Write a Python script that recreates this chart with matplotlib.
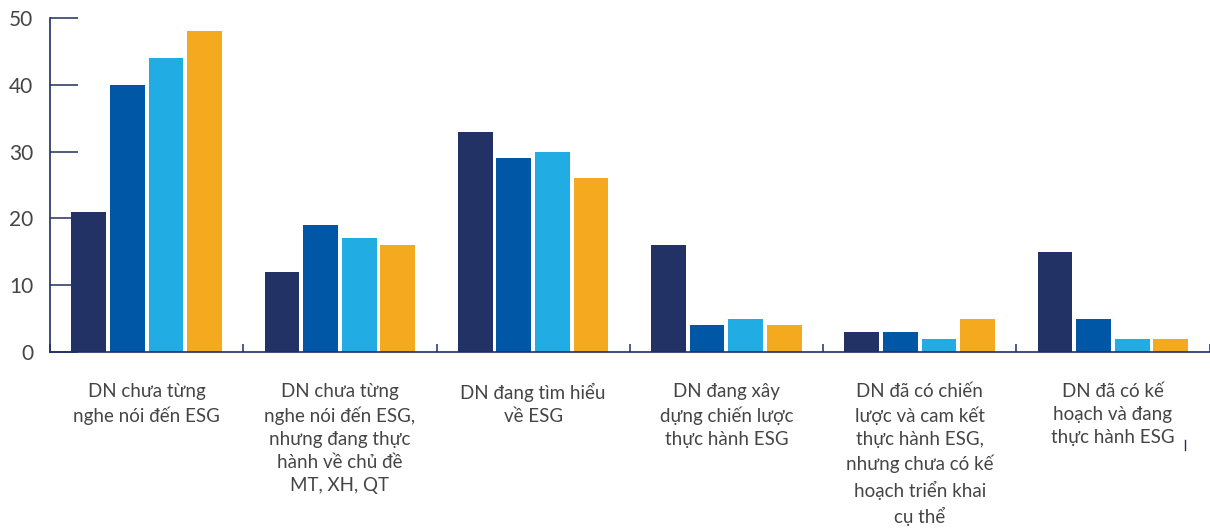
import matplotlib
matplotlib.use("Agg")
import matplotlib.pyplot as plt
from matplotlib.lines import Line2D
import numpy as np

plt.rcParams['font.family'] = ['Lato', 'Open Sans', 'DejaVu Sans']

categories = [
    "DN chưa từng\nnghe nói đến ESG",
    "DN chưa từng\nnghe nói đến ESG,\nnhưng đang thực\nhành về chủ đề\nMT, XH, QT",
    "DN đang tìm hiểu\nvề ESG",
    "DN đang xây\ndựng chiến lược\nthực hành ESG",
    "DN đã có chiến\nlược và cam kết\nthực hành ESG,\nnhưng chưa có kế\nhoạch triển khai\ncụ thể",
    "DN đã có kế\nhoạch và đang\nthực hành ESG",
]
series1 = [21, 12, 33, 16, 3, 15]
series2 = [40, 19, 29, 4, 3, 5]
series3 = [44, 17, 30, 5, 2, 2]
series4 = [48, 16, 26, 4, 5, 2]
colors = ["#233264", "#0057a5", "#21ace3", "#f5a91e"]
yticks = [0, 10, 20, 30, 40, 50]

axis_col = "#1f2f5f"
text_col = "#454545"

fig = plt.figure(figsize=(12.1, 5.32), dpi=100)
ax = fig.add_axes([50/1210, 180/532, 1 - 50/1210 - 0.5/1210, 334/532])

x = np.arange(len(categories))
w = 0.18
step = 0.2
for i, (vals, c) in enumerate(zip([series1, series2, series3, series4], colors)):
    ax.bar(x + (i - 1.5) * step, vals, width=w, color=c, zorder=2)

ax.set_xlim(-0.5, len(categories) - 0.5)
ax.set_ylim(0, 50)

for s in ['top', 'right']:
    ax.spines[s].set_visible(False)
for s in ['left', 'bottom']:
    ax.spines[s].set_color(axis_col)
    ax.spines[s].set_linewidth(1.2)

ax.set_yticks(yticks)
ax.tick_params(axis='y', direction='in', length=20, width=1.1, color=axis_col,
               labelsize=15, labelcolor=text_col, pad=12)

ax.set_xticks(np.arange(len(categories) + 1) - 0.5)
ax.set_xticklabels([])
ax.tick_params(axis='x', which='major', direction='in', length=6, width=1.1, color=axis_col)
ax.set_xticks(x, minor=True)
ax.set_xticklabels(categories, minor=True, fontsize=13.5, color=text_col, linespacing=1.44,
                   va='top', ha='center')
ax.tick_params(axis='x', which='minor', length=0, pad=22)

# small stray mark next to the last label
fig.add_artist(Line2D([1185/1210, 1185/1210], [1 - 440/532, 1 - 450/532],
                      color=axis_col, lw=1))

fig.savefig("out.png", dpi=100)
